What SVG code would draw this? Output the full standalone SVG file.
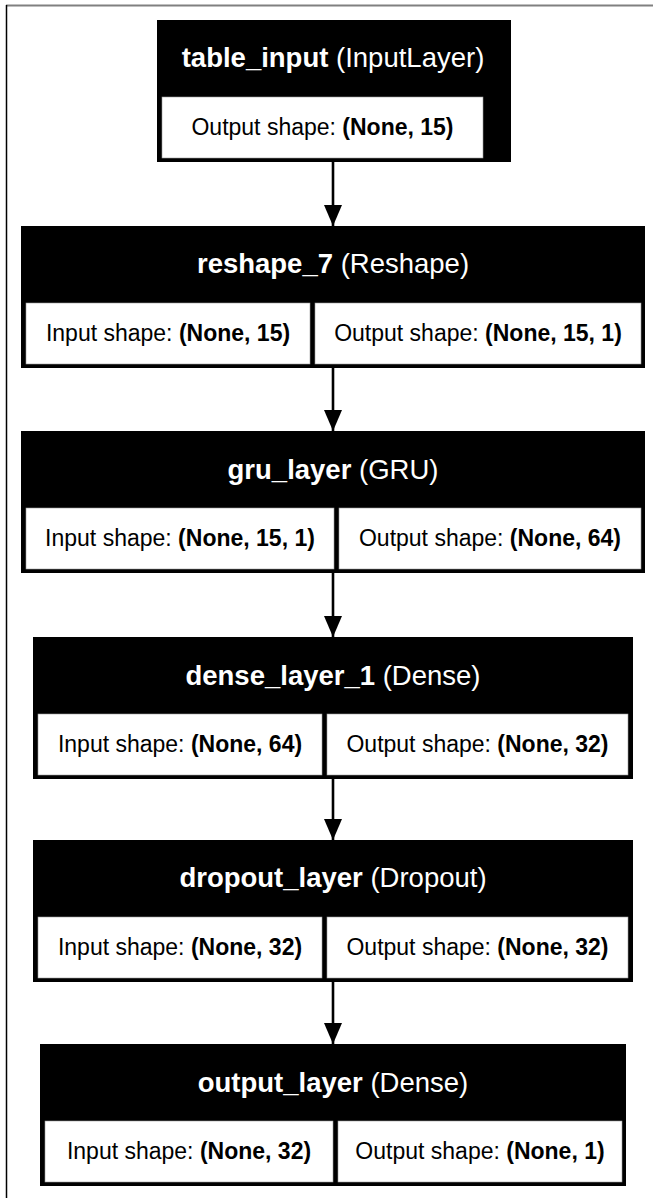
<svg xmlns="http://www.w3.org/2000/svg" width="653" height="1198" viewBox="0 0 653 1198">
  <style>
    .frame-top { stroke: #808080; stroke-width: 2; }
    .frame-left { stroke: #000; stroke-width: 1.5; }
    .outer { fill: #000; }
    .cell { fill: #fff; stroke: #9a9a9a; stroke-width: 0.6; }
    .title { font-family: "Liberation Sans", Arial, sans-serif; font-size: 27.5px; fill: #fff; text-anchor: middle; }
    .body { font-family: "Liberation Sans", Arial, sans-serif; font-size: 23px; fill: #000; text-anchor: middle; }
    .b { font-weight: bold; }
    .edge { stroke: #000; stroke-width: 2.6; fill: none; }
  </style>
  <defs>
    <marker id="arrowhead" viewBox="0 0 21 18" refX="21" refY="9" markerWidth="21" markerHeight="18" markerUnits="userSpaceOnUse" orient="auto">
      <polygon points="0,0 21,9 0,18" fill="#000"/>
    </marker>
  </defs>

  <rect x="0" y="0" width="653" height="1198" fill="#fff"/>
  <line class="frame-top" x1="6" y1="5.5" x2="653" y2="5.5"/>
  <line class="frame-left" x1="6.5" y1="5" x2="6.5" y2="1198"/>

  <g id="connectors">
    <line class="edge" x1="333" y1="162" x2="333" y2="226" marker-end="url(#arrowhead)"/>
    <line class="edge" x1="333" y1="368" x2="333" y2="431" marker-end="url(#arrowhead)"/>
    <line class="edge" x1="333" y1="573" x2="333" y2="637" marker-end="url(#arrowhead)"/>
    <line class="edge" x1="333" y1="779" x2="333" y2="840" marker-end="url(#arrowhead)"/>
    <line class="edge" x1="333" y1="982" x2="333" y2="1044" marker-end="url(#arrowhead)"/>
  </g>

  <g id="table_input">
    <rect class="outer" x="157" y="20" width="354" height="142"/>
    <text class="title" x="333" y="67"><tspan class="b">table_input</tspan> (InputLayer)</text>
    <rect class="cell" x="162" y="97" width="321" height="61"/>
    <text class="body" x="322.5" y="135">Output shape: <tspan class="b">(None, 15)</tspan></text>
  </g>

  <g id="reshape_7">
    <rect class="outer" x="21" y="226" width="624" height="142"/>
    <text class="title" x="333" y="273"><tspan class="b">reshape_7</tspan> (Reshape)</text>
    <rect class="cell" x="26" y="303" width="284" height="61"/>
    <rect class="cell" x="315" y="303" width="326" height="61"/>
    <text class="body" x="168" y="341">Input shape: <tspan class="b">(None, 15)</tspan></text>
    <text class="body" x="478" y="341">Output shape: <tspan class="b">(None, 15, 1)</tspan></text>
  </g>

  <g id="gru_layer">
    <rect class="outer" x="21" y="431" width="624" height="142"/>
    <text class="title" x="333" y="479"><tspan class="b">gru_layer</tspan> (GRU)</text>
    <rect class="cell" x="26" y="508" width="308" height="61"/>
    <rect class="cell" x="339" y="508" width="302" height="61"/>
    <text class="body" x="180" y="546">Input shape: <tspan class="b">(None, 15, 1)</tspan></text>
    <text class="body" x="490" y="546">Output shape: <tspan class="b">(None, 64)</tspan></text>
  </g>

  <g id="dense_layer_1">
    <rect class="outer" x="33" y="637" width="600" height="142"/>
    <text class="title" x="333" y="685"><tspan class="b">dense_layer_1</tspan> (Dense)</text>
    <rect class="cell" x="38" y="714" width="284" height="61"/>
    <rect class="cell" x="327" y="714" width="301" height="61"/>
    <text class="body" x="180" y="752">Input shape: <tspan class="b">(None, 64)</tspan></text>
    <text class="body" x="477.5" y="752">Output shape: <tspan class="b">(None, 32)</tspan></text>
  </g>

  <g id="dropout_layer">
    <rect class="outer" x="33" y="840" width="600" height="142"/>
    <text class="title" x="333" y="887"><tspan class="b">dropout_layer</tspan> (Dropout)</text>
    <rect class="cell" x="38" y="917" width="284" height="61"/>
    <rect class="cell" x="327" y="917" width="301" height="61"/>
    <text class="body" x="180" y="955">Input shape: <tspan class="b">(None, 32)</tspan></text>
    <text class="body" x="477.5" y="955">Output shape: <tspan class="b">(None, 32)</tspan></text>
  </g>

  <g id="output_layer">
    <rect class="outer" x="40" y="1044" width="586" height="142"/>
    <text class="title" x="333" y="1092"><tspan class="b">output_layer</tspan> (Dense)</text>
    <rect class="cell" x="45" y="1121" width="288" height="61"/>
    <rect class="cell" x="338" y="1121" width="284" height="61"/>
    <text class="body" x="189" y="1159">Input shape: <tspan class="b">(None, 32)</tspan></text>
    <text class="body" x="480" y="1159">Output shape: <tspan class="b">(None, 1)</tspan></text>
  </g>
</svg>
